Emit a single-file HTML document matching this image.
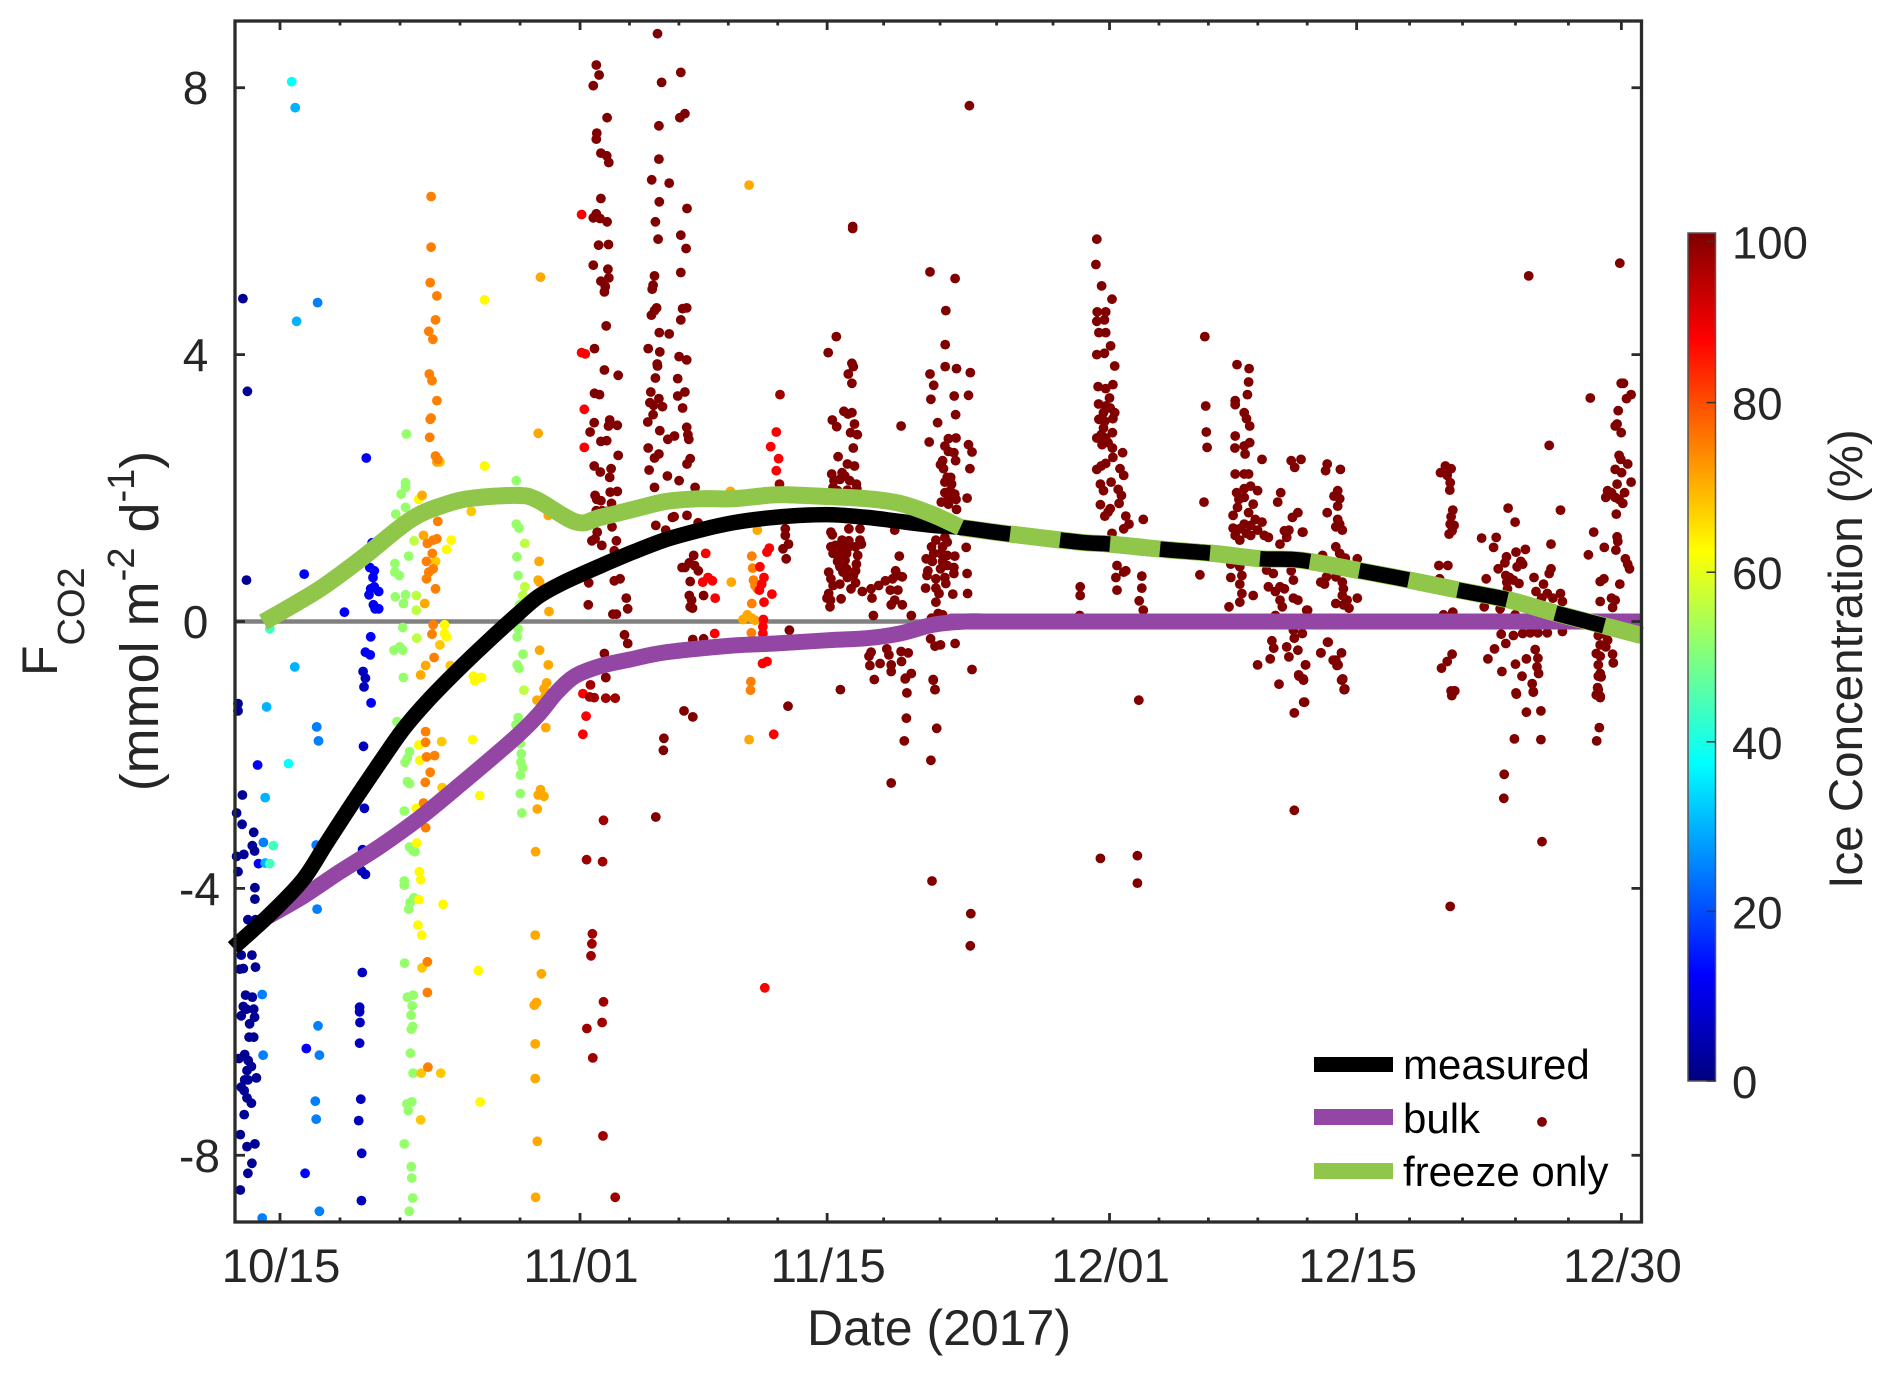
<!DOCTYPE html>
<html lang="en">
<head>
<meta charset="utf-8">
<title>CO2 flux chart</title>
<style>
html,body{margin:0;padding:0;background:#fff;width:1892px;height:1375px;overflow:hidden}
svg{display:block;font-family:"Liberation Sans",Arial,sans-serif}
</style>
</head>
<body>
<svg id="chart" xmlns="http://www.w3.org/2000/svg" width="1892" height="1375" viewBox="0 0 1892 1375">
<defs><linearGradient id="jetGrad" x1="0" y1="1" x2="0" y2="0"></linearGradient></defs>
<g id="zeroLayer"></g>
<g id="dots"></g>
<g id="lines"></g>
<g id="axes"></g>
<text x="939" y="1345" font-size="50" fill="#262626" text-anchor="middle">Date (2017)</text>
<text transform="translate(57,676) rotate(-90)" font-size="50" fill="#262626">F<tspan dy="27" font-size="38">CO2</tspan></text>
<text transform="translate(158,621) rotate(-90)" font-size="54" fill="#262626" text-anchor="middle">(mmol m<tspan dy="-24" font-size="38">-2</tspan><tspan dy="24"> d</tspan><tspan dy="-24" font-size="38">-1</tspan><tspan dy="24">)</tspan></text>
<g id="colorbar"></g>
<text transform="translate(1862,659) rotate(-90)" font-size="47.5" fill="#262626" text-anchor="middle">Ice Concentration (%)</text>
<g>
<rect x="1314" y="1057" width="79" height="15" fill="#000"/>
<text x="1403" y="1079" font-size="42" fill="#000">measured</text>
<rect x="1314" y="1109" width="79" height="16" fill="#9446a4"/>
<text x="1403" y="1133" font-size="42" fill="#000">bulk</text>
<rect x="1314" y="1163" width="79" height="16" fill="#90c64a"/>
<text x="1403" y="1186" font-size="42" fill="#000">freeze only</text>
</g>
</svg>
<script>
// Axis domains (days since 10/15; flux in mmol m-2 d-1)
const xDomain = [-2.55, 77.14];
const yDomain = [-9, 9];
const xMajorDays = [0, 17, 31, 47, 61, 76];
const xMajorLabels = ['10/15', '11/01', '11/15', '12/01', '12/15', '12/30'];
const xMinorDays = [3.4, 6.8, 10.2, 13.6, 19.8, 22.6, 25.4, 28.2, 34.2, 37.4, 40.6, 43.8, 49.8, 52.6, 55.4, 58.2, 64, 67, 70, 73];
const yTicks = [-8, -4, 0, 4, 8];
const yTickLabels = ['-8', '-4', '0', '4', '8'];
const colorbarTicks = [0, 20, 40, 60, 80, 99];
const colorbarLabels = ['0', '20', '40', '60', '80', '100'];
const colorbarStops = [0, 12.5, 37.5, 62.5, 87.5, 100];

// Flux lines: [day, flux]
const measuredLine = [[-2.66,-4.89],[-0.57,-4.39],[1.3,-3.87],[2.66,-3.31],[4.14,-2.71],[5.67,-2.11],[6.97,-1.62],[8.33,-1.2],[10.03,-0.74],[11.73,-0.31],[13.43,0.1],[14.62,0.37],[16.03,0.58],[18.13,0.83],[20,1.04],[21.9,1.23],[23.8,1.37],[25.67,1.48],[27.6,1.55],[29.46,1.59],[31.3,1.6],[33.26,1.56],[35.13,1.5],[37,1.44],[38.55,1.41],[40.8,1.33],[45.26,1.19],[47.04,1.16],[50.07,1.08],[52.86,1.02],[55.64,0.94],[57.79,0.92],[61.21,0.76],[64,0.62],[66.77,0.47],[69.66,0.32],[72.34,0.12],[75.12,-0.07]];
const bulkLine = [[-0.68,-4.42],[1.3,-4.12],[3.4,-3.75],[5.67,-3.37],[7.93,-2.94],[10.37,-2.41],[13.2,-1.77],[14.56,-1.42],[15.69,-1.06],[16.71,-0.82],[18.13,-0.67],[19.83,-0.57],[21.9,-0.46],[25.67,-0.36],[28.05,-0.33],[31.09,-0.28],[33.26,-0.25],[35.13,-0.18],[37,-0.05],[38.81,0],[40,0],[41,0],[77.14,0]];
const freezeEarlyLine = [[-0.94,-0.01],[0.96,0.28],[2.44,0.52],[4.7,0.96],[7.42,1.53],[9.44,1.76],[10.96,1.85],[13.37,1.89],[14.51,1.83],[16.78,1.49],[18.13,1.56],[20,1.68],[21.9,1.8],[23.8,1.84],[25.67,1.84],[27.6,1.89],[28.7,1.9],[31.3,1.87],[33.26,1.84],[35.13,1.77],[37,1.6],[38.55,1.41]];
const freezeLateLine = [[38.55,1.41],[40.8,1.33],[45.26,1.19],[47.04,1.16],[50.07,1.08],[52.86,1.02],[55.64,0.94],[57.79,0.92],[61.21,0.76],[64,0.62],[66.77,0.47],[69.66,0.32],[72.34,0.12],[75.12,-0.07],[77.14,-0.21]];

// Scatter observations: [day, flux], grouped by ice concentration (%)
const obsIce2 = [[-2.1,4.84],[-1.85,3.45],[-1.9,0.62],[-2.38,-1.23],[-2.38,-1.34],[-2.13,-2.6],[-2.46,-2.87],[-2.15,-3.04],[-1.49,-3.16],[-1.57,-3.36],[-1.44,-3.44],[-2.46,-3.52],[-2.05,-3.49],[-2.38,-3.75],[-1.42,-3.99],[-1.42,-4.16],[-1.82,-4.47],[-1.39,-4.47],[-2.2,-5.0],[-1.59,-5.0],[-1.39,-5.18],[-2.08,-5.2],[-2.28,-5.21],[-1.95,-5.6],[-1.57,-5.63],[-2.08,-5.77],[-1.9,-5.81],[-1.49,-5.81],[-2.2,-5.91],[-1.44,-5.93],[-1.72,-6.03],[-1.75,-6.23],[-1.49,-6.23],[-2.0,-6.49],[-2.33,-6.55],[-1.8,-6.58],[-1.62,-6.67],[-1.87,-6.73],[-1.34,-6.84],[-2.0,-6.87],[-1.82,-6.87],[-2.2,-6.98],[-2.03,-7.03],[-1.87,-7.14],[-1.62,-7.22],[-2.03,-7.39],[-2.25,-7.69],[-1.87,-7.87],[-1.42,-7.83],[-1.59,-8.12],[-1.82,-8.27],[-2.25,-8.52]];
const obsIce6 = [[4.66,-5.26],[4.51,-5.78],[4.51,-5.85],[4.53,-6.01],[4.51,-6.32],[4.58,-7.16],[4.46,-7.48],[4.63,-7.97],[4.61,-8.68],[4.73,-1.87],[4.78,-2.8],[4.68,-3.42],[4.84,-3.79],[4.63,-3.74],[4.71,-0.75],[4.84,-0.85],[4.76,-0.98]];
const obsIce12 = [[4.89,2.45],[5.22,1.18],[5.09,0.81],[5.34,0.76],[5.27,0.66],[5.34,0.52],[5.14,0.49],[5.59,0.45],[5.04,0.4],[5.29,0.25],[5.39,0.19],[5.59,0.19],[5.14,-0.23],[4.84,-0.46],[5.11,-0.5],[1.37,0.71],[3.65,0.14],[5.16,-1.22],[-1.27,-2.15],[-1.22,-3.63],[1.42,-8.27],[1.49,-6.4]];
const obsIce25 = [[2.13,4.78],[2.08,-1.58],[2.18,-1.79],[-0.94,-3.31],[2.05,-3.35],[2.1,-4.31],[-1.01,-5.59],[2.15,-6.06],[-0.96,-6.5],[2.23,-6.5],[2.0,-7.19],[2.05,-7.46],[2.23,-8.84],[-1.01,-8.94]];
const obsIce30 = [[0.94,4.5],[0.86,7.7],[0.84,-0.68],[-0.76,-1.28],[-0.84,-2.64],[-0.84,-3.62]];
const obsIce38 = [[0.66,8.09],[0.48,-2.13]];
const obsIce44 = [[-0.58,-0.11],[-0.38,-3.36],[-0.58,-3.63]];
const obsIce52 = [[7.16,2.81],[7.11,2.08],[7.11,2.01],[6.86,1.91],[7.11,1.71],[6.56,1.61],[7.29,0.98],[6.51,0.87],[6.51,0.74],[6.76,0.69],[6.53,0.37],[7.11,0.4],[6.99,0.27],[6.96,-0.09],[6.46,-0.43],[6.78,-0.38],[6.96,-0.43],[6.99,-0.84],[6.63,-1.5],[7.34,-1.95],[7.22,-2.05],[7.09,-2.11],[7.22,-2.4],[7.34,-2.43],[7.04,-2.84],[7.34,-3.38],[7.54,-3.44],[7.65,-3.45],[7.04,-3.89],[7.04,-3.95],[7.59,-4.14],[7.37,-4.21],[7.29,-4.31],[7.06,-5.12],[7.22,-5.63],[7.54,-5.6],[7.49,-5.76],[7.42,-5.9],[7.52,-6.07],[7.44,-6.11],[7.39,-6.47],[7.54,-6.77],[7.47,-7.2],[7.19,-7.23],[7.27,-7.33],[7.04,-7.83],[7.44,-8.17],[7.47,-8.34],[7.52,-8.64],[7.32,-8.84],[13.39,2.11],[13.39,1.46],[13.54,1.4],[13.42,0.97],[13.49,0.69],[13.57,0.25],[13.49,-0.11],[13.44,-0.23],[13.77,-0.49],[13.44,-0.65],[13.54,-0.7],[13.49,-1.44],[13.37,-1.55],[13.62,-1.83],[13.67,-1.98],[13.65,-2.11],[13.75,-2.19],[13.62,-2.3],[13.62,-2.58],[13.7,-2.87]];
const obsIce56 = [[7.59,1.21],[13.87,1.17],[13.87,0.52],[13.75,0.39],[13.82,-1.03],[7.72,0.39],[7.72,0.17],[7.75,-0.25]];
const obsIce63 = [[11.59,4.82],[11.59,2.33],[9.7,1.22],[9.44,1.08],[7.85,1.83],[9.32,-0.05],[9.32,-0.18],[9.44,-0.23],[10.96,-0.82],[11.34,-0.84],[11.09,-0.88],[11.04,-0.89],[11.42,-0.84],[10.91,-1.77],[7.87,-1.85],[7.92,-2.08],[11.32,-2.61],[7.72,-2.8],[7.75,-3.32],[7.9,-3.75],[7.97,-3.87],[7.87,-4.17],[9.24,-4.24],[7.82,-4.55],[8.03,-4.7],[11.24,-5.23],[11.34,-7.2]];
const obsIce68 = [[10.84,1.65],[8.81,0.9],[9.06,-0.35],[9.65,-0.66],[9.16,-1.8],[9.19,-2.49],[8.05,-5.19],[9.11,-6.77],[8.0,-6.77],[7.97,-7.47],[9.06,2.39]];
const obsIce71 = [[14.76,5.16],[8.89,2.39],[14.63,2.82],[8.05,1.89],[15.2,1.59],[8.13,1.29],[14.68,0.9],[14.63,0.62],[14.71,0.59],[15.24,0.15],[8.2,0.27],[14.71,-0.43],[15.2,-0.65],[8.25,-0.66],[7.97,-0.8],[15.11,-0.92],[14.96,-1.01],[15.01,-1.13],[14.56,-1.18],[15.06,-1.59],[14.76,-2.52],[14.63,-2.6],[14.96,-2.62],[14.58,-2.81],[14.48,-3.45],[14.46,-4.7],[14.81,-5.28],[14.53,-5.71],[14.41,-5.75],[14.46,-6.33],[14.46,-6.85],[14.58,-7.79],[14.48,-8.63],[26.58,6.54],[25.57,0.59],[25.52,1.95],[26.48,0.1],[26.23,0.03],[26.73,0.05],[26.91,0.02],[26.58,-1.77],[27.04,1.37]];
const obsIce75 = [[8.56,6.37],[8.56,5.61],[8.51,5.08],[8.89,4.88],[8.81,4.52],[8.43,4.35],[8.66,4.23],[8.46,3.71],[8.61,3.61],[8.89,3.31],[8.51,3.03],[8.56,3.05],[8.48,2.76],[8.81,2.48],[8.94,2.43],[8.94,1.5],[8.89,1.24],[8.68,1.22],[8.35,1.17],[8.63,1.02],[8.3,0.9],[8.68,0.79],[8.43,0.74],[8.3,0.64],[8.81,0.49],[8.68,-0.05],[8.61,-0.19],[8.73,-0.54],[8.25,-1.65],[8.25,-1.81],[8.3,-2.03],[8.76,-2.01],[8.51,-2.26],[8.23,-2.41],[8.13,-2.72],[8.25,-3.09],[8.35,-5.1],[8.35,-5.56],[8.38,-6.68],[26.73,0.98],[26.78,0.8],[26.83,0.62],[26.91,0.54],[27.04,0.49],[26.73,0.27],[26.71,-0.17],[26.68,-0.9],[26.66,-1.03]];
const obsIce88 = [[17.09,6.1],[17.09,4.03],[17.29,4.01],[17.24,3.18],[17.24,2.61],[17.16,-1.08],[17.34,-1.42],[17.16,-1.69],[24.12,1.02],[24.25,0.66],[24.5,0.61],[23.95,0.59],[24.66,0.35],[24.63,-0.18],[28.12,2.84],[27.8,2.62],[28.25,2.44],[28.12,2.26],[27.72,1.1],[27.59,1.04],[27.19,0.82],[27.42,0.66],[27.29,0.56],[27.16,0.47],[27.87,0.41],[27.42,0.29],[27.39,0.03],[27.36,-0.08],[27.36,-0.18],[27.59,-0.6],[27.34,-0.63],[27.97,-1.69],[27.47,-5.49]];
const obsIce97 = [[17.37,-3.57],[18.28,-3.6],[18.33,-2.98],[17.7,-4.68],[17.67,-4.83],[17.62,-5.01],[18.33,-5.7],[18.25,-6.01],[17.39,-6.1],[17.72,-6.54],[18.3,-7.71],[18.99,-8.63],[17.59,-0.95],[17.54,-1.13],[17.8,-1.14],[18.46,-0.84],[18.46,-1.15],[18.99,-1.15],[28.33,3.4],[28.3,2.06]];
const burstNov2 = [[17.92,8.34],[18.08,8.19],[17.75,8.03],[18.53,7.55],[17.95,7.32],[17.92,7.23],[18.18,7.02],[18.51,6.98],[18.63,6.88],[18.18,6.34],[17.92,6.11],[17.75,6.05],[18.13,6.04],[18.53,5.99],[18.05,5.64],[18.61,5.65],[17.75,5.34],[18.58,5.28],[18.18,5.1],[18.63,5.15],[18.43,5.02],[18.38,4.94],[18.48,4.43],[17.82,4.09],[18.38,3.77],[19.16,3.69],[17.82,3.42],[18.1,3.4],[17.8,2.98],[18.68,3.02],[18.61,2.93],[19.11,2.94],[17.57,2.84],[18.18,2.7],[18.51,2.71],[19.16,2.49],[17.8,2.33],[18.15,2.24],[18.76,2.29],[18.68,2.16],[18.71,1.94],[19.11,1.95],[17.85,1.89],[17.95,1.83],[18.18,1.81],[18.78,1.77],[17.92,1.66],[18.25,1.66],[18.51,1.65],[18.81,1.42],[17.97,1.34],[17.85,1.24],[17.67,1.21],[18.23,1.14],[19.06,1.21],[18.94,1.06],[18.05,0.82],[17.49,0.58],[18.94,0.61],[19.27,0.64],[17.47,0.25],[19.62,0.35],[19.7,0.19],[18.86,0.11],[19.06,0.11],[19.52,-0.2],[19.7,-0.33],[18.38,-0.48],[18.46,-0.84]];
const burstNov5 = [[21.39,8.81],[21.62,8.08],[22.71,8.23],[22.66,7.55],[22.94,7.61],[21.47,7.43],[21.47,6.93],[21.06,6.62],[22.05,6.57],[21.49,6.29],[23.06,6.19],[21.27,5.99],[22.71,5.79],[21.42,5.73],[23.01,5.59],[22.71,5.23],[21.22,5.18],[21.14,5.04],[21.09,4.98],[21.34,4.7],[21.22,4.66],[21.04,4.59],[22.81,4.69],[23.04,4.7],[22.71,4.52],[21.49,4.33],[22.05,4.31],[20.86,4.09],[21.52,4.04],[22.61,3.97],[23.04,3.92],[21.37,3.86],[21.39,3.83],[21.27,3.65],[22.53,3.64],[21.01,3.44],[22.94,3.44],[21.47,3.34],[22.53,3.38],[20.96,3.28],[21.17,3.24],[21.67,3.22],[22.81,3.2],[21.14,3.1],[20.84,2.99],[21.52,2.86],[23.04,2.91],[21.97,2.73],[22.35,2.78],[23.11,2.8],[23.16,2.73],[20.86,2.6],[21.47,2.51],[21.22,2.45],[23.24,2.44],[23.06,2.36],[20.91,2.27],[21.95,2.18],[22.61,2.11],[21.22,2.01],[23.52,2.01],[21.29,1.44],[21.85,1.37],[22.33,1.57],[22.94,0.81],[23.44,0.99],[23.49,0.84],[23.24,0.6],[23.32,0.32],[23.19,0.39],[23.37,0.2],[22.78,0.81],[23.19,0.88],[23.7,0.76],[24.0,0.39],[23.24,0.22],[23.39,-0.27],[24.0,-0.26],[23.69,1.48],[22.23,1.56],[23.06,1.59],[22.89,-1.34],[23.39,-1.43],[21.75,-1.75],[21.72,-1.93],[21.29,-2.93],[28.78,-1.27],[28.63,1.39],[28.63,1.29],[28.81,1.16],[28.5,1.09],[28.68,0.94],[28.86,-0.13]];
const burstNov15 = [[32.45,5.89],[32.45,5.92],[31.52,4.27],[31.06,4.03],[32.4,3.87],[32.48,3.82],[32.2,3.71],[32.4,3.57],[31.95,3.15],[32.4,3.13],[32.18,3.11],[31.29,3.02],[32.55,2.96],[31.54,2.92],[32.33,2.83],[32.71,2.8],[32.48,2.6],[31.62,2.47],[32.15,2.36],[32.55,2.33],[31.26,2.21],[31.85,2.23],[32,2.18],[31.39,2.11],[31.72,2.13],[32.28,2.11],[32.66,2.06],[32.68,1.99],[31.34,2.01],[31.59,1.96],[32.15,1.97],[32.66,1.93],[31.21,1.34],[31.29,1.3],[32.23,1.39],[32.86,1.39],[31.85,1.22],[32.23,1.21],[32.86,1.22],[31.21,1.12],[31.47,1.14],[31.85,1.1],[32.23,1.12],[32.61,1.12],[32.94,1.16],[31.34,1.02],[31.72,1.01],[32.1,1.02],[32.73,0.99],[31.59,0.9],[32.02,0.92],[31.72,0.82],[32.1,0.79],[32.66,0.86],[31.09,0.74],[31.9,0.74],[32.61,0.76],[31.21,0.64],[32.15,0.66],[32.48,0.69],[31.34,0.54],[31.72,0.56],[32.61,0.58],[32.35,0.49],[32.99,0.45],[31.09,0.42],[31.79,0.34],[31.19,0.32],[30.99,0.35],[31.16,0.22],[33.49,0.49],[33.92,0.54],[34.3,0.61],[33.54,0.35],[33.62,0.09],[34.58,0.47],[34.88,0.76],[35.01,0.69],[35.26,0.67],[34.71,0.64],[35.01,0.47],[34.83,0.32],[34.63,0.25],[35.26,0.25],[35.09,0.98],[35.19,2.93],[35.77,0.09],[34.83,1.37],[33.49,-0.46],[33.37,-0.52],[34.38,-0.41],[34.5,-0.5],[34,-0.63],[33.42,-0.66],[34.63,-0.65],[34.63,-0.75],[33.67,-0.87],[35.19,-0.45],[35.59,-0.47],[35.21,-0.6],[35.77,-0.78],[35.44,-0.85],[35.52,-1.07],[31.75,-1.02],[35.42,-0.86],[35.49,-1.45],[37.21,-1.6],[35.37,-1.79],[36.88,-2.08],[34.63,-2.42],[36.94,-3.89],[39.14,-4.38],[39.11,-4.86]];
const burstNov22 = [[39.06,7.73],[36.83,5.24],[38.25,5.14],[37.72,4.66],[37.69,4.15],[36.83,3.71],[37.69,3.82],[38.33,3.79],[39.11,3.73],[37.04,3.54],[36.88,3.33],[38.2,3.38],[39.01,3.39],[37.26,2.98],[38.28,3.1],[36.78,2.69],[37.67,2.63],[37.87,2.74],[38.3,2.75],[39.01,2.65],[39.21,2.54],[37.87,2.55],[38.18,2.53],[37.54,2.41],[38.28,2.41],[37.42,2.35],[37.59,2.29],[39.09,2.29],[37.8,2.16],[38,2.16],[37.67,2.09],[38.05,2.06],[37.97,1.96],[37.67,1.93],[38.23,1.91],[38.93,1.85],[37.47,1.79],[37.87,1.86],[38.3,1.83],[37.87,1.76],[38.33,1.68],[37.67,1.26],[37.16,1.22],[36.91,1.12],[37.54,1.12],[37.8,1.19],[38.88,1.11],[37.04,1.02],[37.42,1.02],[37.8,0.99],[38.23,0.98],[36.61,0.94],[36.96,0.9],[37.54,0.9],[37.8,0.84],[36.71,0.76],[37.42,0.79],[38.18,0.81],[38.93,0.72],[36.66,0.69],[37.16,0.64],[37.67,0.66],[38.18,0.72],[36.58,0.5],[37.16,0.5],[37.72,0.57],[37.34,0.42],[38.12,0.41],[38.96,0.42],[37.16,0.29],[37.54,0.1],[37.29,0.12],[36.91,0.05],[36.86,-0.26],[37.42,-0.35],[37.11,-0.37],[38.25,-0.33],[39.21,-0.72],[37.01,-0.87],[37.11,-1.02],[37.01,-0.88],[37.11,-1.02]];
const burstDec1 = [[46.28,5.73],[46.23,5.35],[46.55,5.03],[47.14,4.83],[46.3,4.64],[46.78,4.64],[46.28,4.5],[46.71,4.52],[46.4,4.33],[46.78,4.33],[47.06,4.13],[46.28,4],[46.71,4.02],[47.29,3.83],[46.35,3.52],[46.78,3.49],[47.19,3.55],[47,3.35],[46.38,3.26],[46.78,3.23],[47.04,3.2],[47.29,3.13],[46.66,3.13],[46.4,3.03],[46.73,3],[47.19,3.04],[46.66,2.9],[47.16,2.83],[46.53,2.8],[46.28,2.75],[46.78,2.75],[46.58,2.65],[46.91,2.68],[47.16,2.6],[47.74,2.53],[47.19,2.46],[46.78,2.37],[46.53,2.33],[46.28,2.28],[47.59,2.29],[47.8,2.19],[47.09,2.09],[46.48,2.06],[46.66,1.96],[47.49,1.98],[47.67,1.89],[47.54,1.77],[46.48,1.75],[47.04,1.69],[46.91,1.64],[46.73,1.58],[47.92,1.58],[48.91,1.53],[48.1,1.46],[47.8,1.39],[47.14,1.32],[47.42,0.84],[47.92,0.76],[47.8,0.74],[47.36,0.66],[48.83,0.68],[48.83,0.5],[47.42,0.47],[48.68,0.31],[48.91,0.17],[45.34,0.52],[45.34,0.39],[45.31,0.09],[46.48,-3.55],[48.58,-3.51],[48.58,-3.92],[48.66,-1.18]];
const burstDec7 = [[52.4,4.27],[52.45,3.23],[52.48,2.84],[52.53,2.61],[52.35,1.79],[52.12,0.7],[54.22,3.85],[54.91,3.79],[54.88,3.59],[54.81,3.4],[54.12,3.31],[54.12,3.25],[54.63,3.13],[54.76,3.04],[54.94,2.93],[54.12,2.78],[54.63,2.63],[54.94,2.68],[54.1,2.6],[54.68,2.51],[55.64,2.43],[54.12,2.21],[54.63,2.21],[54.88,2.21],[57.29,2.41],[57.85,2.43],[57.49,2.31],[54.99,2.03],[55.39,1.96],[54.63,1.99],[54.2,1.93],[56.7,1.93],[56.53,1.79],[54.63,1.86],[54.33,1.83],[55.14,1.76],[54.25,1.71],[54.88,1.63],[54,1.59],[57.67,1.63],[57.36,1.56],[55.26,1.53],[55.64,1.49],[54.63,1.46],[55,1.44],[54,1.4],[54.38,1.39],[55.39,1.37],[54.76,1.32],[55.77,1.29],[55,1.29],[56.91,1.36],[57.16,1.37],[57.92,1.34],[54.12,1.29],[56,1.26],[54.38,1.22],[56.66,1.16],[57.04,1.26],[53.87,0.86],[54.38,0.82],[55.9,0.77],[56.28,0.72],[57.29,0.76],[53.87,0.66],[54.5,0.69],[56,0.52],[56.66,0.52],[57.42,0.62],[54.38,0.56],[56.4,0.45],[56.91,0.49],[54.5,0.42],[55.14,0.39],[56.66,0.32],[57.42,0.35],[54.38,0.29],[53.77,0.22],[56.79,0.22],[58.17,0.17],[57.67,0.32],[56.4,0.09],[57.42,-0.13],[57.92,-0.18],[56.2,-0.29],[56.3,-0.4],[57.04,-0.38],[57.47,-0.25],[57.67,-0.43],[56.1,-0.56],[55.39,-0.65],[57.16,-0.53],[58.1,-0.65],[57.72,-0.8],[56.6,-0.94],[57.97,-0.86],[57.74,-0.82],[57.99,-0.88],[58.05,-1.21],[57.47,-1.37],[57.47,-2.83]];
const burstDec13 = [[59.33,2.36],[59.24,2.26],[60.08,2.28],[59.93,1.96],[59.72,1.88],[60.04,1.84],[59.93,1.73],[59.33,1.63],[59.93,1.53],[60.04,1.46],[59.82,1.42],[60.19,1.37],[57.96,1.34],[59.82,1.12],[60.04,1.02],[60.36,0.95],[61.04,0.94],[59.07,0.99],[58.97,0.59],[59.18,0.56],[59.29,0.67],[59.82,0.67],[60.19,0.59],[60.25,0.49],[60.19,0.39],[61.04,0.35],[59.82,0.27],[60.46,0.32],[60.25,0.25],[60.57,0.2],[58.22,0.17],[59.39,-0.31],[58.98,-0.47],[59.82,-0.58],[59.95,-0.65],[60.15,-0.88],[60.2,-0.87],[60.33,-1.01],[59.35,-0.31],[58.97,-0.47],[60.14,-0.47],[59.67,-0.58],[59.89,-0.66],[58.11,-0.65],[60.21,-0.86],[60.31,-1.02],[58,-1.21],[60.19,-0.87],[60.29,-1.02]];
const burstDec19 = [[66.03,2.33],[66.35,2.29],[65.75,2.23],[66.13,2.19],[66.3,2.08],[66.28,1.97],[66.45,1.67],[66.35,1.57],[66.3,1.46],[66.52,1.44],[66.41,1.36],[66.24,1.31],[65.66,0.84],[66.17,0.84],[65.7,0.64],[65.92,0.1],[66.45,0.14],[66.41,-0.49],[66.13,-0.6],[65.81,-0.7],[66.35,-1.04],[66.56,-1.04],[66.39,-1.11],[66.52,-1.04],[66.3,-4.27]];
const burstDec23 = [[70.75,5.18],[69.58,1.7],[69.98,1.49],[68.08,1.25],[68.91,1.26],[68.76,1.11],[70.03,1.04],[70.56,1.08],[69.49,0.97],[69.4,0.88],[70.41,0.86],[70.09,0.82],[69.02,0.79],[70.3,0.9],[69.45,0.69],[68.34,0.64],[69.66,0.66],[69.88,0.62],[71.05,0.66],[69.51,0.59],[70.2,0.57],[71.59,0.56],[72.01,0.79],[71.91,0.72],[72.01,1.16],[71.91,2.64],[72.55,1.67],[69.55,0.49],[71.16,0.45],[71.8,0.42],[72.55,0.42],[71.48,0.35],[72.12,0.35],[72.66,0.3],[68.23,0.22],[69.13,0.19],[69.98,0.1],[69.19,-0.19],[69.88,-0.21],[70.41,-0.18],[70.84,-0.17],[71.27,-0.17],[71.8,-0.17],[72.66,-0.15],[69.45,-0.33],[71.12,-0.42],[68.81,-0.41],[71.27,-0.55],[68.44,-0.56],[70.62,-0.56],[70,-0.64],[71.22,-0.68],[69.23,-0.75],[71.31,-0.78],[70.37,-0.82],[70.95,-0.93],[70.03,-1.07],[71.01,-1.05],[70.05,-1.09],[71.01,-1.06],[70.62,-1.36],[71.44,-1.34],[69.94,-1.76],[71.44,-1.77],[69.36,-2.29],[69.34,-2.65],[71.5,-3.3],[71.5,-7.5]];
const burstDec28 = [[75.91,5.37],[74.24,3.35],[75.99,3.57],[76.12,3.57],[76.29,3.34],[76.55,3.4],[75.82,3.16],[75.65,2.93],[75.76,2.96],[75.99,2.83],[75.87,2.49],[75.97,2.43],[76.36,2.36],[75.65,2.28],[76.01,2.23],[76.55,2.09],[75.76,2.06],[75.22,1.96],[75.44,1.93],[76.18,1.93],[75.12,1.86],[75.65,1.86],[75.87,1.83],[76.08,1.77],[75.71,1.61],[74.43,1.34],[75.76,1.27],[75.8,1.2],[75.03,1.11],[75.69,1.07],[74.13,1],[76.23,0.94],[76.36,0.86],[76.46,0.79],[75.01,0.64],[74.8,0.6],[75.91,0.56],[75.44,0.35],[75.65,0.32],[74.8,0.3],[75.5,0.21],[74.69,-0.21],[74.9,-0.18],[75.22,-0.28],[74.8,-0.35],[75.12,-0.38],[74.58,-0.48],[74.8,-0.52],[75.5,-0.49],[75.54,-0.62],[74.69,-0.65],[74.8,-0.78],[74.69,-0.82],[74.69,-1.02],[74.8,-1.12],[74.65,-0.99],[74.58,-1.1],[74.8,-1.14],[74.75,-1.59],[74.6,-1.79],[74.85,-0.83]];

const scatterIceLevels = [2,6,12,25,30,38,44,52,56,63,68,71,75,88,97,100,100,100,100,100,100,100,100,100,100];
const scatterGroups = [obsIce2,obsIce6,obsIce12,obsIce25,obsIce30,obsIce38,obsIce44,obsIce52,obsIce56,obsIce63,obsIce68,obsIce71,obsIce75,obsIce88,obsIce97,burstNov2,burstNov5,burstNov15,burstNov22,burstDec1,burstDec7,burstDec13,burstDec19,burstDec23,burstDec28];

const SVGNS = 'http://www.w3.org/2000/svg';
const plot = {left: 235, right: 1641.5, top: 21, bottom: 1222};
const cbar = {left: 1688, right: 1715.5, top: 233, bottom: 1081};
function xScale(d){ return plot.left + (d - xDomain[0]) / (xDomain[1] - xDomain[0]) * (plot.right - plot.left); }
function yScale(f){ return plot.bottom - (f - yDomain[0]) / (yDomain[1] - yDomain[0]) * (plot.bottom - plot.top); }
function cScale(v){ return cbar.bottom - v / 100 * (cbar.bottom - cbar.top); }
function clamp(v){ return Math.max(0, Math.min(1, v)); }
function jet(ice){
  const t = ice / 100;
  const r = clamp(1.5 - Math.abs(4 * t - 3));
  const g = clamp(1.5 - Math.abs(4 * t - 2));
  const b = clamp(1.5 - Math.abs(4 * t - 1));
  return 'rgb(' + Math.round(r * 255) + ',' + Math.round(g * 255) + ',' + Math.round(b * 255) + ')';
}
function make(tag, parent){
  const el = document.createElementNS(SVGNS, tag);
  parent.appendChild(el);
  return el;
}
// Smooth (Catmull-Rom) path through the data points
function linePath(pts){
  const P = pts.map(function(p){ return [xScale(p[0]), yScale(p[1])]; });
  let d = 'M' + P[0][0].toFixed(1) + ' ' + P[0][1].toFixed(1);
  for (let i = 0; i < P.length - 1; i++) {
    const a = P[Math.max(0, i - 1)], b = P[i], c = P[i + 1], e = P[Math.min(P.length - 1, i + 2)];
    const segLen = Math.abs(c[0] - b[0]);
    if (segLen > 200) { d += 'L' + c[0].toFixed(1) + ' ' + c[1].toFixed(1); continue; }
    const c1x = b[0] + (c[0] - a[0]) / 6, c1y = b[1] + (c[1] - a[1]) / 6;
    const c2x = c[0] - (e[0] - b[0]) / 6, c2y = c[1] - (e[1] - b[1]) / 6;
    d += 'C' + c1x.toFixed(1) + ' ' + c1y.toFixed(1) + ' ' + c2x.toFixed(1) + ' ' + c2y.toFixed(1) + ' ' + c[0].toFixed(1) + ' ' + c[1].toFixed(1);
  }
  return d;
}

// zero line
const zeroLine = make('line', document.getElementById('zeroLayer'));


zeroLine.setAttribute('x1', plot.left);
zeroLine.setAttribute('x2', plot.right);
zeroLine.setAttribute('y1', yScale(0));
zeroLine.setAttribute('y2', yScale(0));
zeroLine.setAttribute('stroke', '#808080');
zeroLine.setAttribute('stroke-width', '4.5');

// scatter
const dotsLayer = document.getElementById('dots');
scatterGroups.forEach(function(group, gi){
  const fill = jet(scatterIceLevels[gi]);
  group.forEach(function(p){
    const c = make('circle', dotsLayer);
    
    
    c.setAttribute('cx', xScale(p[0]).toFixed(1));
    c.setAttribute('cy', yScale(p[1]).toFixed(1));
    c.setAttribute('r', '4.9');
    c.setAttribute('fill', fill);
  });
});

// lines
const linesLayer = document.getElementById('lines');
const bulkPath = make('path', linesLayer);


bulkPath.setAttribute('d', linePath(bulkLine));
bulkPath.setAttribute('fill', 'none');
bulkPath.setAttribute('stroke', '#9446a4');
bulkPath.setAttribute('stroke-width', '16');

const freezeBase = make('path', linesLayer);


freezeBase.setAttribute('d', linePath(freezeLateLine));
freezeBase.setAttribute('fill', 'none');
freezeBase.setAttribute('stroke', '#90c64a');
freezeBase.setAttribute('stroke-width', '17');

const measuredPath = make('path', linesLayer);


measuredPath.setAttribute('d', linePath(measuredLine));
measuredPath.setAttribute('fill', 'none');
measuredPath.setAttribute('stroke', '#000');
measuredPath.setAttribute('stroke-width', '15.5');

const freezeEarly = make('path', linesLayer);


freezeEarly.setAttribute('d', linePath(freezeEarlyLine));
freezeEarly.setAttribute('fill', 'none');
freezeEarly.setAttribute('stroke', '#90c64a');
freezeEarly.setAttribute('stroke-width', '17');

const freezeDash = make('path', linesLayer);


freezeDash.setAttribute('d', linePath(freezeLateLine));
freezeDash.setAttribute('fill', 'none');
freezeDash.setAttribute('stroke', '#90c64a');
freezeDash.setAttribute('stroke-width', '17');
freezeDash.setAttribute('stroke-dasharray', '50.2 50.2');
freezeDash.setAttribute('stroke-dashoffset', '50.2');

// axes
const axesLayer = document.getElementById('axes');
const axisColor = '#2b2b2b';
const frame = make('rect', axesLayer);


frame.setAttribute('x', plot.left);
frame.setAttribute('y', plot.top);
frame.setAttribute('width', plot.right - plot.left);
frame.setAttribute('height', plot.bottom - plot.top);
frame.setAttribute('fill', 'none');
frame.setAttribute('stroke', axisColor);
frame.setAttribute('stroke-width', '3.3');

function tick(x1, y1, x2, y2, name, w, color){
  const l = make('line', axesLayer);
  
  
  l.setAttribute('x1', x1);
  l.setAttribute('y1', y1);
  l.setAttribute('x2', x2);
  l.setAttribute('y2', y2);
  l.setAttribute('stroke', color || axisColor);
  l.setAttribute('stroke-width', w || 2.8);
}
function label(parent, x, y, str, size, anchor, name){
  const t = make('text', parent);
  
  
  t.setAttribute('x', x);
  t.setAttribute('y', y);
  t.setAttribute('font-size', size);
  t.setAttribute('text-anchor', anchor);
  t.setAttribute('fill', '#262626');
  t.textContent = str;
}
xMajorDays.forEach(function(d, i){
  const x = xScale(d);
  tick(x, plot.top, x, plot.top + 9, 'x-major-tick-top');
  tick(x, plot.bottom, x, plot.bottom - 9, 'x-major-tick-bottom');
  label(axesLayer, x + 1, 1282, xMajorLabels[i], 47.5, 'middle', 'x-tick-label');
});
xMinorDays.forEach(function(d){
  const x = xScale(d);
  tick(x, plot.top, x, plot.top + 4.5, 'x-minor-tick-top');
  tick(x, plot.bottom, x, plot.bottom - 4.5, 'x-minor-tick-bottom');
});
yTicks.forEach(function(v, i){
  const y = yScale(v);
  tick(plot.left, y, plot.left + 10, y, 'y-tick-left');
  tick(plot.right, y, plot.right - 10, y, 'y-tick-right');
  label(axesLayer, v < 0 ? 199.5 : 195.5, y + 16.5, yTickLabels[i], 46, 'middle', 'y-tick-label');
});

// colorbar
const grad = document.getElementById('jetGrad');
colorbarStops.forEach(function(v){
  const s = make('stop', grad);
  s.setAttribute('offset', (v / 100).toFixed(3));
  s.setAttribute('stop-color', jet(v));
});
const cbLayer = document.getElementById('colorbar');
const cbRect = make('rect', cbLayer);


cbRect.setAttribute('x', cbar.left);
cbRect.setAttribute('y', cbar.top);
cbRect.setAttribute('width', cbar.right - cbar.left);
cbRect.setAttribute('height', cbar.bottom - cbar.top);
cbRect.setAttribute('fill', 'url(#jetGrad)');
cbRect.setAttribute('stroke', '#555');
cbRect.setAttribute('stroke-width', '1.5');
colorbarTicks.forEach(function(v, i){
  const y = cScale(v);
  const l = make('line', cbLayer);
  
  
  l.setAttribute('x1', cbar.right - 9);
  l.setAttribute('x2', cbar.right);
  l.setAttribute('y1', y);
  l.setAttribute('y2', y);
  l.setAttribute('stroke', '#333');
  l.setAttribute('stroke-width', '1.5');
  label(cbLayer, 1732, y + 17, colorbarLabels[i], 45.5, 'start', 'colorbar-tick-label');
});
</script>
</body>
</html>
